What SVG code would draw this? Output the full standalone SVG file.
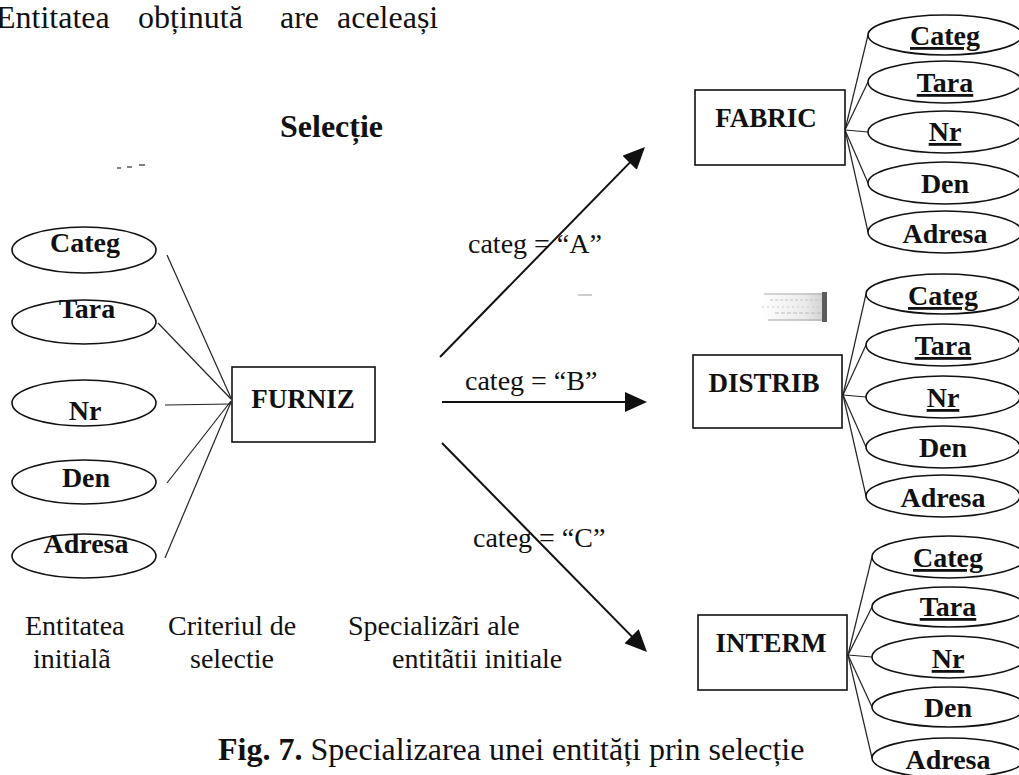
<svg xmlns="http://www.w3.org/2000/svg" width="1019" height="775" viewBox="0 0 1019 775">
  <defs>
    <style>
      .bg { fill: #ffffff; }
      .body { font-family: "Liberation Serif", "Times New Roman", serif; fill: #111; }
      .attr { font-family: "Liberation Serif", "Times New Roman", serif; font-weight: bold; font-size: 28px; fill: #111; text-anchor: middle; }
      .key { text-decoration: underline; }
      .ent { font-family: "Liberation Serif", "Times New Roman", serif; font-weight: bold; font-size: 27px; fill: #111; text-anchor: middle; }
      .oval { fill: #ffffff; stroke: #111; stroke-width: 1.6; }
      .box { fill: #ffffff; stroke: #111; stroke-width: 1.6; }
      .link { stroke: #222; stroke-width: 1.2; fill: none; }
      .arrow { stroke: #111; stroke-width: 2; fill: none; marker-end: url(#head); }
      .lbl { font-family: "Liberation Serif", "Times New Roman", serif; font-size: 28px; fill: #111; }
      .cap { font-family: "Liberation Serif", "Times New Roman", serif; font-size: 28px; fill: #111; }
      .streak { stroke-width: 1; }
    </style>
    <marker id="head" viewBox="0 0 22 20" refX="18" refY="10" markerWidth="22" markerHeight="20" markerUnits="userSpaceOnUse" orient="auto">
      <path d="M0,0 L22,10 L0,20 Z" fill="#111"/>
    </marker>
    <linearGradient id="smudge" x1="0" y1="0" x2="1" y2="0">
      <stop offset="0" stop-color="#ffffff"/>
      <stop offset="0.7" stop-color="#b8b8b8"/>
      <stop offset="1" stop-color="#606060"/>
    </linearGradient>
  </defs>

  <rect class="bg" x="0" y="0" width="1019" height="775"/>

  <!-- running text and title -->
  <g id="header">
    <text class="body" font-size="32" x="-4" y="28">Entitatea</text>
    <text class="body" font-size="32" x="138" y="28">obținută</text>
    <text class="body" font-size="32" x="280" y="28">are</text>
    <text class="body" font-size="32" x="337" y="28">aceleași</text>
    <text class="body" font-size="32" font-weight="bold" x="280" y="137">Selecție</text>
    <path d="M117,168 h4 M127,167 h5 M139,165 h6" stroke="#555" stroke-width="1.5"/>
  </g>

  <!-- connectors: attributes to entities, and selection arrows -->
  <g id="connectors">
    <line class="link" x1="167" y1="255" x2="231" y2="398"/>
    <line class="link" x1="158" y1="323" x2="231" y2="399"/>
    <line class="link" x1="165" y1="405" x2="231" y2="404"/>
    <line class="link" x1="167" y1="483" x2="231" y2="401"/>
    <line class="link" x1="165" y1="558" x2="231" y2="402"/>

    <line class="link" x1="845" y1="130" x2="868" y2="35"/>
    <line class="link" x1="845" y1="130" x2="868" y2="82"/>
    <line class="link" x1="845" y1="130" x2="868" y2="132"/>
    <line class="link" x1="845" y1="130" x2="868" y2="183"/>
    <line class="link" x1="845" y1="130" x2="868" y2="232"/>

    <line class="link" x1="843" y1="395" x2="866" y2="294"/>
    <line class="link" x1="843" y1="395" x2="866" y2="345"/>
    <line class="link" x1="843" y1="395" x2="866" y2="397"/>
    <line class="link" x1="843" y1="395" x2="866" y2="447"/>
    <line class="link" x1="843" y1="395" x2="866" y2="496"/>

    <line class="link" x1="848" y1="655" x2="872" y2="557"/>
    <line class="link" x1="848" y1="655" x2="872" y2="607"/>
    <line class="link" x1="848" y1="655" x2="872" y2="657"/>
    <line class="link" x1="848" y1="655" x2="872" y2="707"/>
    <line class="link" x1="848" y1="655" x2="872" y2="758"/>

    <line class="arrow" x1="440" y1="357" x2="642.2" y2="149.9"/>
    <line class="arrow" x1="442" y1="402" x2="643" y2="402"/>
    <line class="arrow" x1="442" y1="443" x2="644.2" y2="649.1"/>

    <text class="lbl" x="468" y="253">categ = “A”</text>
    <text class="lbl" x="465" y="390">categ = “B”</text>
    <text class="lbl" x="473" y="547">categ = “C”</text>
    <line x1="578" y1="295" x2="592" y2="295" stroke="#999" stroke-width="1"/>
  </g>

  <!-- initial entity FURNIZ and its attributes -->
  <g id="furniz-attrs">
    <ellipse class="oval" cx="84" cy="250" rx="72" ry="23"/>
    <text class="attr" x="85" y="252">Categ</text>
    <ellipse class="oval" cx="84" cy="322" rx="72" ry="22"/>
    <text class="attr" x="87" y="318">Tara</text>
    <ellipse class="oval" cx="84" cy="403" rx="72" ry="23"/>
    <text class="attr" x="85" y="420">Nr</text>
    <ellipse class="oval" cx="84" cy="482" rx="72" ry="22"/>
    <text class="attr" x="86" y="487">Den</text>
    <ellipse class="oval" cx="84" cy="556" rx="72" ry="22"/>
    <text class="attr" x="86" y="553">Adresa</text>
  </g>
  <g id="furniz">
    <rect class="box" x="232" y="367" width="143" height="75"/>
    <text class="ent" x="303" y="408">FURNIZ</text>
  </g>

  <!-- specialisation FABRIC -->
  <g id="fabric">
    <rect class="box" x="695" y="90" width="150" height="75"/>
    <text class="ent" x="766" y="127">FABRIC</text>
  </g>
  <g id="fabric-attrs">
    <ellipse class="oval" cx="945" cy="35" rx="77" ry="20"/>
    <text class="attr key" x="945" y="45">Categ</text>
    <ellipse class="oval" cx="945" cy="82" rx="77" ry="21"/>
    <text class="attr key" x="945" y="92">Tara</text>
    <ellipse class="oval" cx="945" cy="132" rx="77" ry="21"/>
    <text class="attr key" x="945" y="141">Nr</text>
    <ellipse class="oval" cx="945" cy="183" rx="77" ry="21"/>
    <text class="attr" x="945" y="193">Den</text>
    <ellipse class="oval" cx="945" cy="232" rx="77" ry="21"/>
    <text class="attr" x="945" y="243">Adresa</text>
  </g>

  <!-- specialisation DISTRIB -->
  <g id="distrib">
    <rect class="box" x="693" y="355" width="149" height="73"/>
    <text class="ent" x="764" y="392">DISTRIB</text>
  </g>
  <g id="distrib-attrs">
    <ellipse class="oval" cx="943" cy="294" rx="77" ry="20"/>
    <text class="attr key" x="943" y="305">Categ</text>
    <ellipse class="oval" cx="943" cy="345" rx="77" ry="21"/>
    <text class="attr key" x="943" y="355">Tara</text>
    <ellipse class="oval" cx="943" cy="397" rx="77" ry="21"/>
    <text class="attr key" x="943" y="407">Nr</text>
    <ellipse class="oval" cx="943" cy="447" rx="77" ry="21"/>
    <text class="attr" x="943" y="457">Den</text>
    <ellipse class="oval" cx="943" cy="496" rx="77" ry="21"/>
    <text class="attr" x="943" y="507">Adresa</text>
  </g>
  <!-- scanner streak beside DISTRIB -->
  <g id="streak" opacity="0.8">
    <rect x="762" y="293" width="61" height="28" fill="url(#smudge)" opacity="0.35"/>
    <line class="streak" x1="764" y1="294" x2="823" y2="294" stroke="#9a9a9a"/>
    <line class="streak" x1="770" y1="300" x2="823" y2="300" stroke="#b5b5b5" stroke-dasharray="3 2"/>
    <line class="streak" x1="762" y1="307" x2="823" y2="307" stroke="#bdbdbd" stroke-dasharray="2 3"/>
    <line class="streak" x1="775" y1="313" x2="823" y2="313" stroke="#aaaaaa" stroke-dasharray="4 2"/>
    <line class="streak" x1="768" y1="320" x2="823" y2="320" stroke="#8f8f8f"/>
    <rect x="822" y="292" width="5" height="30" fill="#333"/>
  </g>

  <!-- specialisation INTERM -->
  <g id="interm">
    <rect class="box" x="698" y="615" width="149" height="75"/>
    <text class="ent" x="771" y="652">INTERM</text>
  </g>
  <g id="interm-attrs">
    <ellipse class="oval" cx="949" cy="557" rx="77" ry="21"/>
    <text class="attr key" x="948" y="567">Categ</text>
    <ellipse class="oval" cx="949" cy="607" rx="77" ry="20"/>
    <text class="attr key" x="948" y="616">Tara</text>
    <ellipse class="oval" cx="949" cy="657" rx="77" ry="21"/>
    <text class="attr key" x="948" y="668">Nr</text>
    <ellipse class="oval" cx="949" cy="707" rx="77" ry="20"/>
    <text class="attr" x="948" y="717">Den</text>
    <ellipse class="oval" cx="949" cy="758" rx="77" ry="20"/>
    <text class="attr" x="948" y="769">Adresa</text>
  </g>

  <!-- column legends -->
  <g id="legends">
    <text class="cap" x="25" y="635">Entitatea</text>
    <text class="cap" x="33" y="668">initialã</text>
    <text class="cap" x="168" y="635">Criteriul de</text>
    <text class="cap" x="190" y="668">selectie</text>
    <text class="cap" x="348" y="635">Specializãri ale</text>
    <text class="cap" x="392" y="668">entitãtii initiale</text>
  </g>

  <!-- figure caption -->
  <text class="body" font-size="32" x="218" y="760"><tspan font-weight="bold">Fig. 7.</tspan> Specializarea unei entități prin selecție</text>
</svg>
